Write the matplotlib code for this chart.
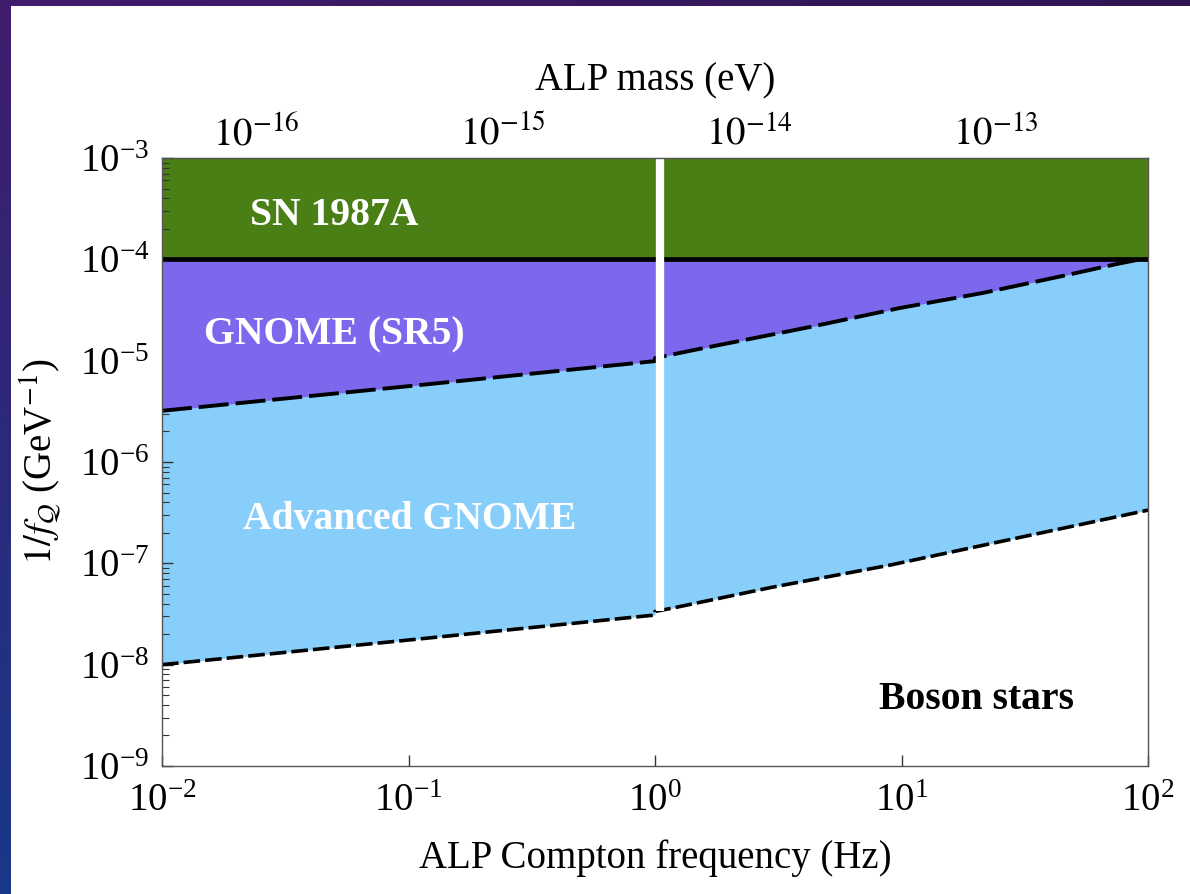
import numpy as np
import matplotlib as mpl
import matplotlib.pyplot as plt
from matplotlib.patches import Rectangle
from matplotlib.ticker import LogLocator, NullFormatter

mpl.rcParams['font.family'] = ['Liberation Serif', 'DejaVu Serif']
mpl.rcParams['mathtext.fontset'] = 'stix'

# data
freq_sr5 = [0.01, 0.1, 1.0, 1.0, 1.43, 4.26, 9.86, 21.4, 46.9, 74.8, 92.9, 100.0]
coup_sr5 = [3.2e-6, 5.6e-6, 9.9e-6, 1.06e-5, 1.27e-5, 2.15e-5, 3.31e-5, 4.66e-5,
            7.0e-5, 9.0e-5, 1.0e-4, 1.0e-4]

freq_adv = [0.01, 0.1, 1.0, 1.0, 1.18, 3.01, 8.97, 100.0]
coup_adv = [1.0e-8, 1.75e-8, 3.09e-8, 3.35e-8, 3.62e-8, 5.83e-8, 9.6e-8, 3.35e-7]

sn_low, sn_high = 1e-4, 1e-3
ymin = 1e-9
gap_freq = 1.048

mass_ticks = [1e-16, 1e-15, 1e-14, 1e-13]
hz_to_ev = 4.1357e-15

green = '#4a7f15'
purple = '#7b68ec'
lightblue = '#87cefa'

fig = plt.figure(figsize=(11.9, 8.94), dpi=100)

# background frame (purple/blue gradient with white panel)
bg = fig.add_axes([0, 0, 1, 1], zorder=-10)
yy, xx = np.mgrid[0:1:200j, 0:1:200j]
top = np.array([0.25, 0.11, 0.43])
bot = np.array([0.10, 0.22, 0.54])
img = top[None, None, :] * (1 - yy[..., None]) + bot[None, None, :] * yy[..., None]
img = img * (1 - 0.25 * xx[..., None] * (1 - yy[..., None]))
bg.imshow(img, aspect='auto', extent=[0, 1, 0, 1])
bg.add_patch(Rectangle((11 / 1190, 0), 1, 1 - 6 / 894, facecolor='white',
                       edgecolor='none', transform=bg.transAxes))
bg.set_xlim(0, 1)
bg.set_ylim(0, 1)
bg.axis('off')

ax = fig.add_axes([162 / 1190, 1 - 766 / 894, (1148 - 162) / 1190, (766 - 158) / 894])
ax.set_xscale('log')
ax.set_yscale('log')
ax.set_xlim(1e-2, 1e2)
ax.set_ylim(ymin, sn_high)

ax.axhspan(sn_low, sn_high, color=green, lw=0, zorder=1)
ax.fill_between(freq_adv, coup_adv, sn_low, color=lightblue, lw=0, zorder=1)
ax.fill_between(freq_sr5, coup_sr5, sn_low, color=purple, lw=0, zorder=2)

ax.plot(freq_sr5, coup_sr5, color='black', lw=2.8, dashes=(7.7, 1.8), zorder=3)
ax.plot(freq_adv, coup_adv, color='black', lw=2.6, dashes=(4.6, 1.4), zorder=3)
ax.axhline(sn_low, color='black', lw=3.4, zorder=3)
ax.plot([gap_freq, gap_freq], [sn_high, coup_adv[3]], color='white', lw=6,
        zorder=4, solid_capstyle='butt')

tkw = dict(color='white', fontsize=28.5, fontweight='bold', zorder=5)
ax.text(0.089, 0.89, 'SN 1987A', transform=ax.transAxes, **tkw)
ax.text(0.043, 0.694, 'GNOME (SR5)', transform=ax.transAxes, **tkw)
ax.text(0.082, 0.39, 'Advanced GNOME', transform=ax.transAxes, **tkw)
ax.text(0.727, 0.093, 'Boson stars', transform=ax.transAxes, color='black',
        fontsize=28.5, fontweight='bold', zorder=5)

for s in ax.spines.values():
    s.set_color('#555555')
    s.set_linewidth(1.0)
    s.set_zorder(6)

ax.xaxis.set_major_locator(LogLocator(base=10, numticks=10))
ax.yaxis.set_major_locator(LogLocator(base=10, numticks=10))
ax.yaxis.set_minor_locator(LogLocator(base=10, subs=np.arange(2, 10), numticks=20))
ax.xaxis.set_minor_locator(LogLocator(base=10, subs=np.arange(2, 10), numticks=20))
ax.yaxis.set_minor_formatter(NullFormatter())
ax.xaxis.set_minor_formatter(NullFormatter())
ax.tick_params(which='both', direction='in', top=False, right=False, labelsize=28,
               color='#333333')
ax.tick_params(which='major', length=8, width=1)
ax.tick_params(which='minor', length=5, width=0.8)
ax.tick_params(axis='x', which='minor', length=0)
ax.tick_params(axis='x', pad=12)
ax.tick_params(axis='y', pad=9)

ax.set_xlabel('ALP Compton frequency (Hz)', fontsize=28, labelpad=14)
ax.set_ylabel(r'$1/f_{\mathcal{Q}}$ (GeV$^{-1}$)', fontsize=28, labelpad=12)

sec = ax.secondary_xaxis('top', functions=(lambda f: f * hz_to_ev, lambda m: m / hz_to_ev))
sec.set_xticks(mass_ticks)
sec.set_xticklabels([r'$10^{%d}$' % int(np.log10(m)) for m in mass_ticks])
sec.xaxis.set_minor_locator(mpl.ticker.NullLocator())
sec.tick_params(direction='in', labelsize=28, length=8, width=1, color='#333333', pad=3)
sec.set_xlabel('ALP mass (eV)', fontsize=28, labelpad=18)
sec.spines['top'].set_color('#555555')

fig.savefig('out.png', dpi=100)
